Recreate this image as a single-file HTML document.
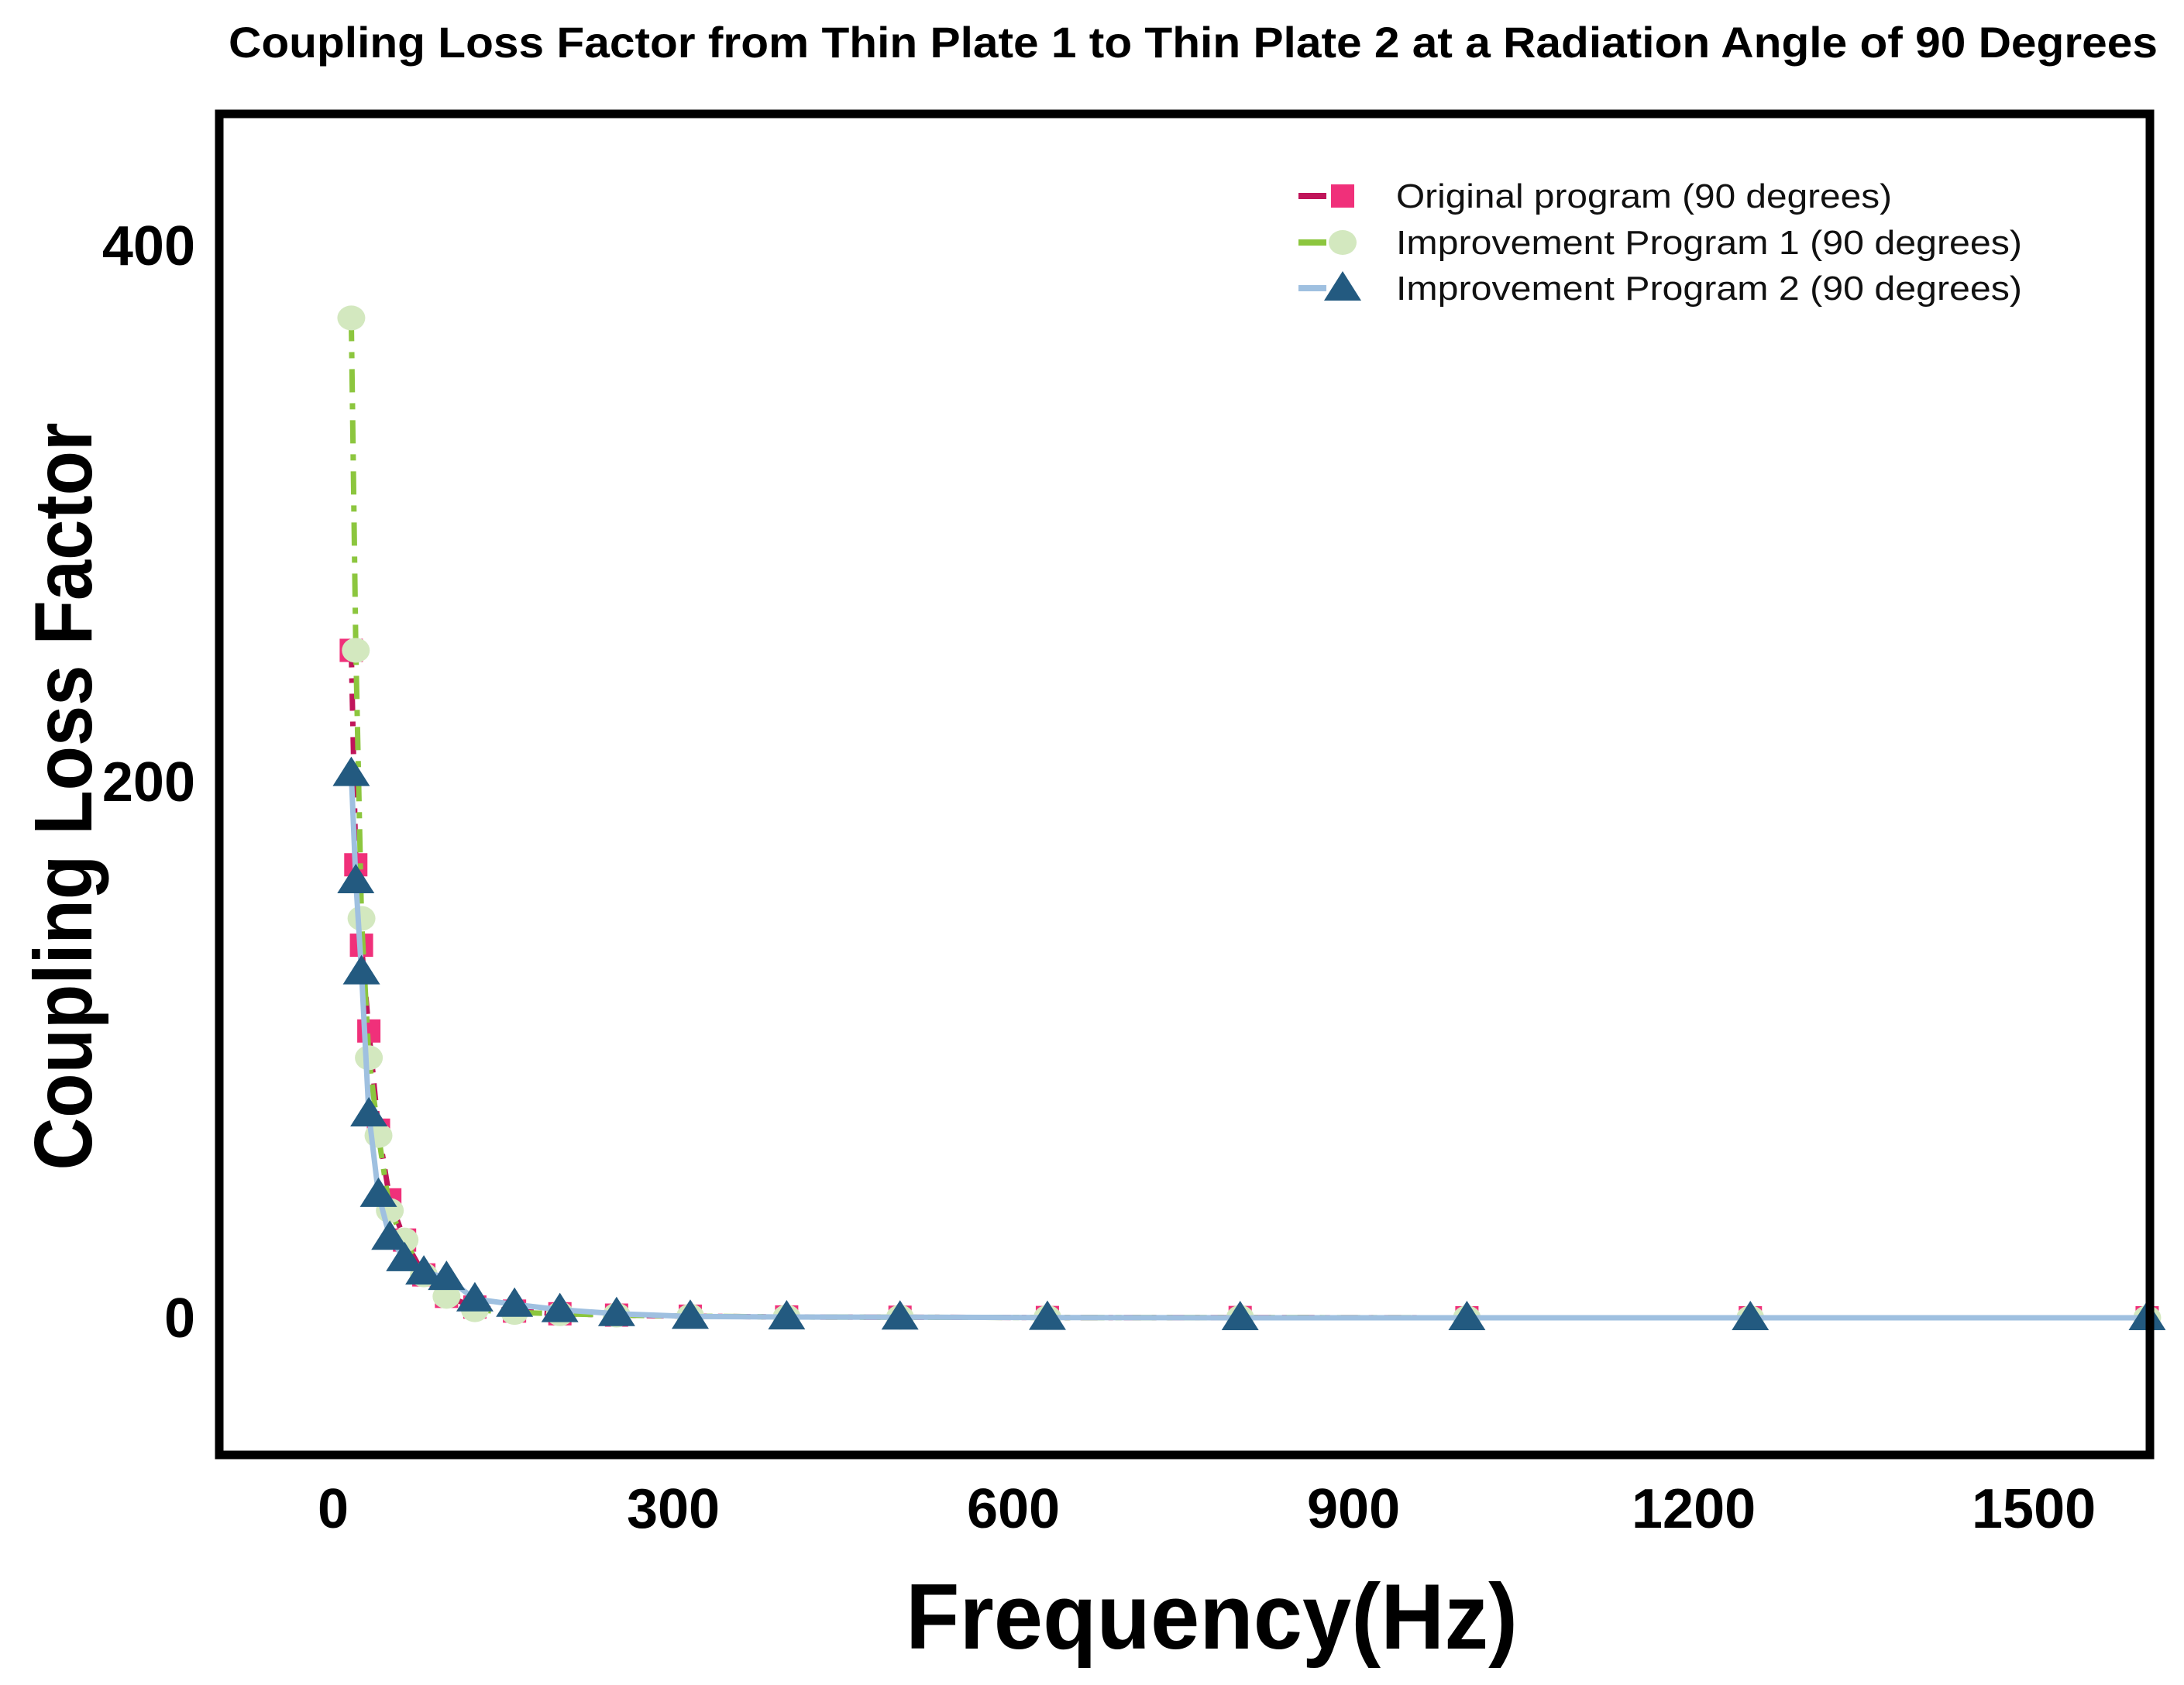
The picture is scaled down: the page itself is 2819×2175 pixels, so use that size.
<!DOCTYPE html>
<html><head><meta charset="utf-8"><style>
html,body{margin:0;padding:0;background:#fff;}
svg{display:block;font-family:"Liberation Sans",Arial,sans-serif;}
</style></head><body>
<svg id="chart" width="2819" height="2175" viewBox="0 0 2819 2175" xmlns="http://www.w3.org/2000/svg">
<rect x="0" y="0" width="2819" height="2175" fill="#fff"/>
<text x="295" y="74" font-size="56" font-weight="bold" textLength="2490" lengthAdjust="spacingAndGlyphs">Coupling Loss Factor from Thin Plate 1 to Thin Plate 2 at a Radiation Angle of 90 Degrees</text>
<g id="plot"></g>
<rect x="283" y="147" width="2492" height="1731" fill="none" stroke="#000" stroke-width="11"/>
<g id="xticks"></g>
<g id="yticks"></g>
<text x="1564" y="2128" font-size="120" font-weight="bold" text-anchor="middle" textLength="790" lengthAdjust="spacingAndGlyphs">Frequency(Hz)</text>
<text transform="translate(118,1028) rotate(-90)" font-size="106" font-weight="bold" text-anchor="middle" textLength="965" lengthAdjust="spacingAndGlyphs">Coupling Loss Factor</text>
<g id="legend"></g>
</svg>
<script>
const freqs = [16,20,25,31.5,40,50,63,80,100,125,160,200,250,315,400,500,630,800,1000,1250,1600];
const originalVals = [249,169,139,107,70,44,29,16,8,4,2.5,1.5,1,0.6,0.3,0.2,0.1,0.1,0,0,0];
const improve1Vals = [373,249,149,97,68,40,29,16,8,3,2,1.5,1,0.6,0.3,0.2,0.1,0.1,0,0,0];
const improve2Vals = [203,163,129,76,46,30,22,17,15,7,5,3,1.5,0.5,0.3,0.2,0.1,0,0,0,0];
const xTicks = [0,300,600,900,1200,1500];
const yTicks = [0,200,400];
const legendLabels = ["Original program (90 degrees)","Improvement Program 1 (90 degrees)","Improvement Program 2 (90 degrees)"];

const NS="http://www.w3.org/2000/svg";
function X(v){return 430 + v*1.4634;}
function Y(v){return 1701 - v*3.46;}
function mk(tag,attrs,parent){const e=document.createElementNS(NS,tag);for(const k in attrs)e.setAttribute(k,attrs[k]);parent.appendChild(e);return e;}

const plot=document.getElementById('plot');
const series=[
 {vals:originalVals,line:"#c0155a",dash:"22 14 6 14",mark:"square",fill:"#f0307a",lw:7},
 {vals:improve1Vals,line:"#8cc63e",dash:"30 14 8 14",mark:"circle",fill:"#d3e8bf",lw:7},
 {vals:improve2Vals,line:"#9fc0e0",dash:"",mark:"tri",fill:"#235a80",lw:7}
];
function marker(type,x,y,fill,parent){
  let m;
  if(type==="square"){m=mk('rect',{x:x-15,y:y-15,width:30,height:30,fill:fill},parent);}
  else if(type==="circle"){m=mk('ellipse',{cx:x,cy:y,rx:18,ry:16,fill:fill},parent);}
  else {m=mk('polygon',{points:`${x},${y-22} ${x+24},${y+16} ${x-24},${y+16}`,fill:fill},parent);}
  return m;
}
series.forEach((s,si)=>{
  const g=mk('g',{},plot);
  
  
  const d=freqs.map((f,i)=>(i?'L':'M')+X(f).toFixed(1)+','+Y(s.vals[i]).toFixed(1)).join(' ');
  const p=mk('path',{d:d,fill:'none',stroke:s.line,'stroke-width':s.lw,'stroke-dasharray':s.dash},g);
  
  
  freqs.forEach((f,i)=>{
    const m=marker(s.mark,X(f),Y(s.vals[i]),s.fill,g);
    
    
  });
});

const xg=document.getElementById('xticks');
xTicks.forEach(t=>{
  const e=mk('text',{x:X(t),y:1972,'font-size':72,'font-weight':'bold','text-anchor':'middle'},xg);
  e.textContent=t;
  
  
});
const yg=document.getElementById('yticks');
yTicks.forEach(t=>{
  const e=mk('text',{x:252,y:Y(t)+25,'font-size':72,'font-weight':'bold','text-anchor':'end'},yg);
  e.textContent=t;
  
  
});

const lg=document.getElementById('legend');
const rowsY=[253,313,372];
legendLabels.forEach((lab,i)=>{
  const s=series[i];
  const g=mk('g',{},lg);
  
  
  const y=rowsY[i];
  mk('line',{x1:1676,y1:y,x2:1782,y2:y,stroke:s.line,'stroke-width':8,'stroke-dasharray':'36 14 8 60'},g);
  marker(s.mark,1733,y,s.fill,g);
  const t=mk('text',{x:1802,y:y+15,'font-size':44,fill:'#111',textLength:(i===0?640:808),lengthAdjust:'spacingAndGlyphs'},g);
  t.textContent=lab;
});
</script>
</body></html>
